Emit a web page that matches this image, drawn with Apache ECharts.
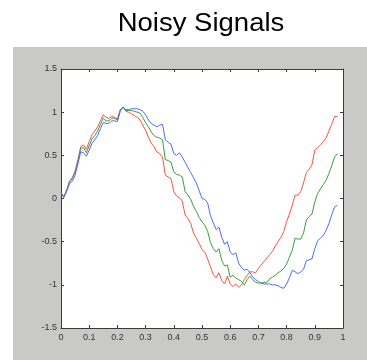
<!DOCTYPE html>
<html>
<head>
<meta charset="utf-8">
<script src="https://cdn.jsdelivr.net/npm/echarts@6/dist/echarts.min.js"></script>
<style>html,body{margin:0;padding:0;background:#fff;}#c{width:367px;height:360px;}</style>
</head>
<body>
<div id="c"></div>
<script>
var titleText = 'Noisy Signals';
var xTickLabels = ['0','0.1','0.2','0.3','0.4','0.5','0.6','0.7','0.8','0.9','1'];
var yTickLabels = ['-1.5','-1','-0.5','0','0.5','1','1.5'];
var xs = [0.00,0.01,0.02,0.03,0.04,0.05,0.06,0.07,0.08,0.09,0.10,0.11,0.12,0.13,0.14,0.15,0.16,0.17,0.18,0.19,0.20,0.21,0.22,0.23,0.24,0.25,0.26,0.27,0.28,0.29,0.30,0.31,0.32,0.33,0.34,0.35,0.36,0.37,0.38,0.39,0.40,0.41,0.42,0.43,0.44,0.45,0.46,0.47,0.48,0.49,0.50,0.51,0.52,0.53,0.54,0.55,0.56,0.57,0.58,0.59,0.60,0.61,0.62,0.63,0.64,0.65,0.66,0.67,0.68,0.69,0.70,0.71,0.72,0.73,0.74,0.75,0.76,0.77,0.78,0.79,0.80,0.81,0.82,0.83,0.84,0.85,0.86,0.87,0.88,0.89,0.90,0.91,0.92,0.93,0.94,0.95,0.96,0.97,0.98];
var redValues = [0.07,0.02,0.10,0.20,0.24,0.32,0.45,0.60,0.62,0.57,0.66,0.74,0.78,0.83,0.90,0.97,0.94,0.93,0.95,0.94,0.92,1.03,1.06,1.01,1.00,0.98,0.96,0.94,0.91,0.85,0.79,0.71,0.64,0.60,0.54,0.52,0.48,0.27,0.25,0.23,0.08,0.03,0.01,-0.03,-0.19,-0.23,-0.29,-0.40,-0.46,-0.52,-0.59,-0.62,-0.70,-0.79,-0.88,-0.92,-0.86,-0.95,-0.99,-0.90,-0.99,-1.02,-0.99,-1.03,-1.00,-0.94,-0.89,-0.85,-0.85,-0.86,-0.81,-0.77,-0.73,-0.69,-0.65,-0.61,-0.55,-0.50,-0.45,-0.38,-0.27,-0.18,-0.08,0.04,0.04,0.08,0.18,0.30,0.34,0.39,0.56,0.59,0.62,0.66,0.70,0.78,0.86,0.95,0.95];
var greenValues = [0.07,0.02,0.09,0.19,0.23,0.30,0.43,0.58,0.59,0.53,0.61,0.69,0.73,0.78,0.86,0.93,0.90,0.90,0.93,0.93,0.91,1.02,1.06,1.02,1.02,1.02,1.01,1.00,0.99,0.94,0.88,0.83,0.77,0.73,0.71,0.70,0.68,0.45,0.44,0.42,0.31,0.28,0.27,0.25,0.08,0.04,-0.01,-0.09,-0.15,-0.22,-0.27,-0.31,-0.38,-0.51,-0.58,-0.62,-0.58,-0.72,-0.78,-0.77,-0.91,-0.89,-0.92,-0.94,-0.96,-1.00,-0.94,-0.90,-0.94,-0.97,-0.98,-0.98,-0.97,-0.97,-0.93,-0.91,-0.89,-0.86,-0.84,-0.81,-0.76,-0.68,-0.60,-0.46,-0.47,-0.47,-0.40,-0.25,-0.21,-0.18,-0.04,0.06,0.11,0.16,0.21,0.29,0.38,0.48,0.52];
var blueValues = [0.07,0.01,0.08,0.17,0.20,0.27,0.40,0.54,0.53,0.49,0.56,0.64,0.68,0.73,0.81,0.88,0.87,0.87,0.90,0.90,0.89,1.01,1.06,1.03,1.03,1.04,1.04,1.04,1.03,1.01,0.97,0.91,0.87,0.85,0.83,0.85,0.86,0.68,0.65,0.63,0.52,0.50,0.53,0.48,0.42,0.36,0.30,0.24,0.18,0.09,0.00,-0.01,-0.05,-0.20,-0.28,-0.36,-0.33,-0.45,-0.53,-0.50,-0.62,-0.65,-0.63,-0.75,-0.80,-0.83,-0.82,-0.86,-0.91,-0.94,-0.96,-0.98,-0.99,-0.99,-0.99,-1.00,-1.00,-1.01,-1.03,-1.04,-0.99,-0.92,-0.83,-0.85,-0.87,-0.85,-0.82,-0.72,-0.71,-0.70,-0.58,-0.49,-0.46,-0.43,-0.37,-0.29,-0.19,-0.10,-0.08];
var seriesNames = ['red','green','blue'];
var seriesColors = ['#f5553f','#3c9e3c','#4f6cf5'];

function pairs(vals){ return xs.map(function(x,i){ return [x, vals[i]]; }); }
var xLabelMap = {}; xTickLabels.forEach(function(t,i){ xLabelMap[(i/10).toFixed(1)] = t; });
var yLabelMap = {}; yTickLabels.forEach(function(t,i){ yLabelMap[(-1.5 + i*0.5).toFixed(1)] = t; });

var chart = echarts.init(document.getElementById('c'), null, {renderer:'canvas'});
var axisColor = '#3a3a3a';
var grid = {left:61, top:69, width:282, height:259};
var option = {
  animation:false,
  backgroundColor:'#ffffff',
  graphic:[
    {type:'rect', z:-10, silent:true, shape:{x:13, y:47, width:354, height:313}, style:{fill:'#c9c9c7'}},
    {type:'rect', z:-9, silent:true, shape:{x:61, y:69, width:282, height:259}, style:{fill:'#ffffff'}},
    {type:'text', x:201, y:24, scaleX:1.1, style:{text:titleText, font:'25px "Liberation Sans", Arial, sans-serif', fill:'#000', textAlign:'center', textVerticalAlign:'middle'}}
  ],
  grid:grid,
  xAxis:[
    {type:'value', min:0, max:1, interval:0.1, position:'bottom',
     axisLine:{show:true, onZero:false, lineStyle:{color:axisColor, width:1}},
     axisTick:{show:true, inside:true, length:3, lineStyle:{color:axisColor}},
     axisLabel:{fontSize:9, color:'#333', margin:5, fontFamily:'"Liberation Sans", Arial, sans-serif',
       formatter:function(v){ return xLabelMap[v.toFixed(1)]; }},
     splitLine:{show:false}},
    {type:'value', min:0, max:1, interval:0.1, position:'top',
     axisLine:{show:true, onZero:false, lineStyle:{color:axisColor, width:1}},
     axisTick:{show:true, inside:true, length:3, lineStyle:{color:axisColor}},
     axisLabel:{show:false}, splitLine:{show:false}}
  ],
  yAxis:[
    {type:'value', min:-1.5, max:1.5, interval:0.5, position:'left',
     axisLine:{show:true, onZero:false, lineStyle:{color:axisColor, width:1}},
     axisTick:{show:true, inside:true, length:3, lineStyle:{color:axisColor}},
     axisLabel:{fontSize:9, color:'#333', margin:4, fontFamily:'"Liberation Sans", Arial, sans-serif',
       formatter:function(v){ return yLabelMap[v.toFixed(1)]; }},
     splitLine:{show:false}},
    {type:'value', min:-1.5, max:1.5, interval:0.5, position:'right',
     axisLine:{show:true, onZero:false, lineStyle:{color:axisColor, width:1}},
     axisTick:{show:true, inside:true, length:3, lineStyle:{color:axisColor}},
     axisLabel:{show:false}, splitLine:{show:false}}
  ],
  series:[redValues, greenValues, blueValues].map(function(vals, i){
    return {name:seriesNames[i], type:'line', xAxisIndex:0, yAxisIndex:0, data:pairs(vals),
      showSymbol:false, symbol:'none', lineStyle:{color:seriesColors[i], width:1}, itemStyle:{color:seriesColors[i]}};
  })
};
chart.setOption(option);
</script>
</body>
</html>
